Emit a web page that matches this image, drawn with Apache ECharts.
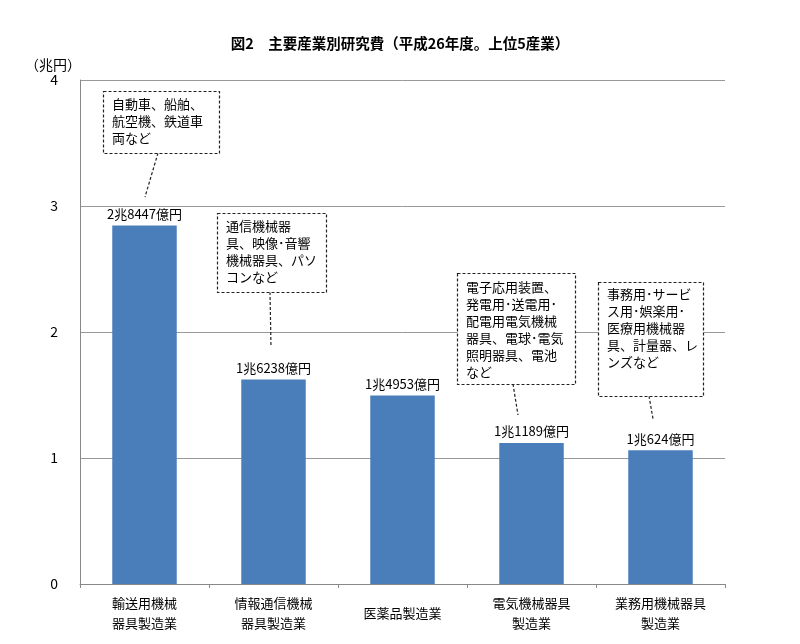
<!DOCTYPE html>
<html>
<head>
<meta charset="utf-8">
<script src="https://cdn.jsdelivr.net/npm/echarts@6/dist/echarts.min.js"></script>
<style>html,body{margin:0;padding:0;background:#fff;}#c{width:800px;height:644px;}</style>
</head>
<body>
<div id="c"></div>
<script>
const categories = ['輸送用機械\n器具製造業', '情報通信機械\n器具製造業', '医薬品製造業', '電気機械器具\n製造業', '業務用機械器具\n製造業'];
const values = [2.8447, 1.6238, 1.4953, 1.1189, 1.0624];
const valueLabels = ['2兆8447億円', '1兆6238億円', '1兆4953億円', '1兆1189億円', '1兆624億円'];
const yTicks = [0, 1, 2, 3, 4];
const notes = [
  '自動車、船舶、\n航空機、鉄道車\n両など',
  '通信機械器\n具、映像･音響\n機械器具、パソ\nコンなど',
  '電子応用装置、\n発電用･送電用･\n配電用電気機械\n器具、電球･電気\n照明器具、電池\nなど',
  '事務用･サービ\nス用･娯楽用･\n医療用機械器\n具、計量器、レ\nンズなど'
];

const FONT = '"Noto Sans CJK JP", "Noto Sans", sans-serif';
const boxes = [
  {x: 103, y: 91, w: 116, h: 62, tx: 112, ty: 96, l: [158, 153, 145, 197]},
  {x: 217, y: 213, w: 109, h: 79, tx: 226, ty: 218, l: [270, 292, 271, 347]},
  {x: 457, y: 273, w: 118, h: 111, tx: 466, ty: 279, l: [513, 384, 518, 415]},
  {x: 598, y: 282, w: 105, h: 114, tx: 607, ty: 286, l: [649, 396, 653, 419]}
];
const graphics = [];
boxes.forEach((b, i) => {
  graphics.push({type: 'line', z: 100, shape: {x1: b.l[0], y1: b.l[1], x2: b.l[2], y2: b.l[3]},
    style: {stroke: '#222', lineWidth: 1.2, lineDash: [3, 2]}});
  graphics.push({type: 'rect', z: 100, shape: {x: b.x + 0.5, y: b.y + 0.5, width: b.w, height: b.h},
    style: {fill: '#fff', stroke: '#222', lineWidth: 1.2, lineDash: [3, 2]}});
  graphics.push({type: 'text', z: 101, x: b.tx, y: b.ty,
    style: {text: notes[i], font: '13px ' + FONT, fill: '#000', lineHeight: 17, textVerticalAlign: 'top'}});
});

const chart = echarts.init(document.getElementById('c'));
chart.setOption({
  animation: false,
  backgroundColor: '#fff',
  title: [
    {text: '図2　主要産業別研究費（平成26年度。上位5産業）', left: 'center', top: 31,
     textStyle: {fontFamily: FONT, fontSize: 14.5, fontWeight: 'bold', color: '#000'}},
    {text: '（兆円）', left: 20, top: 53, textStyle: {fontFamily: FONT, fontSize: 14, fontWeight: 'normal', color: '#000'}}
  ],
  grid: {left: 80, right: 75, top: 80, bottom: 60},
  xAxis: {
    type: 'category', data: categories,
    axisLine: {lineStyle: {color: '#888', width: 1}},
    axisTick: {show: true, length: 4, lineStyle: {color: '#888'}},
    axisLabel: {fontFamily: FONT, fontSize: 13, color: '#000', lineHeight: 20, margin: 29, verticalAlign: 'middle', interval: 0}
  },
  yAxis: {
    type: 'value', min: yTicks[0], max: yTicks[yTicks.length - 1], interval: 1,
    axisLine: {show: true, lineStyle: {color: '#888', width: 1}},
    axisTick: {show: false},
    splitLine: {lineStyle: {color: '#999', width: 1}},
    axisLabel: {fontFamily: FONT, fontSize: 14, color: '#000', margin: 22}
  },
  series: [{
    type: 'bar', data: values, barWidth: '50%',
    itemStyle: {color: '#4a7ebb'},
    label: {show: true, position: 'top', distance: 5, fontFamily: FONT, fontSize: 13, color: '#000',
      formatter: p => valueLabels[p.dataIndex]}
  }],
  graphic: graphics
});
</script>
</body>
</html>
